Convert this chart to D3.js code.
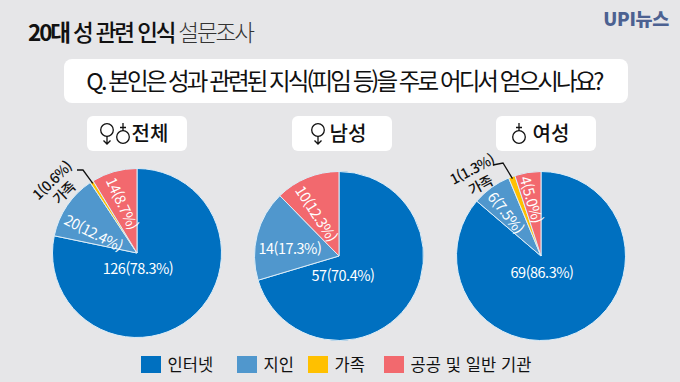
<!DOCTYPE html>
<html lang="ko">
<head>
<meta charset="utf-8">
<script src="https://cdn.jsdelivr.net/npm/d3@7"></script>
<style>
  html, body { margin: 0; padding: 0; background: #e6e6e8; }
  svg { display: block; }
  text { font-family: "Noto Sans CJK KR", "Noto Sans", sans-serif; }
</style>
</head>
<body>
<div id="chart"></div>
<script>
const categories = ['인터넷', '지인', '가족', '공공 및 일반 기관']
const colors = ['#0070c0', '#5097cd', '#ffc000', '#f2696e']

const panelNames = ['전체', '남성', '여성']
const totalValues = [126, 20, 1, 14]
const maleValues = [57, 14, 0, 10]
const femaleValues = [69, 6, 1, 4]
const totalPercents = ['78.3', '12.4', '0.6', '8.7']
const malePercents = ['70.4', '17.3', '0', '12.3']
const femalePercents = ['86.3', '7.5', '1.3', '5.0']

const width = 680
const height = 382
const radius = 84.5

const svg = d3.select('#chart').append('svg')
  .attr('width', width)
  .attr('height', height)

svg.append('rect').attr('width', width).attr('height', height).attr('fill', '#e6e6e8')

// header
const title = svg.append('text')
  .attr('x', 28).attr('y', 41)
  .attr('font-size', 22.5)
  .attr('letter-spacing', -2.1)
  .attr('fill', '#111')
title.append('tspan').attr('font-weight', 700).text('20대')
title.append('tspan').attr('font-weight', 500).attr('dx', 4).text('성 관련 인식')
title.append('tspan').attr('font-weight', 300).attr('dx', 4).attr('fill', '#333').text('설문조사')

svg.append('text')
  .attr('x', 669).attr('y', 26)
  .attr('text-anchor', 'end')
  .attr('font-size', 18.5)
  .attr('font-weight', 900)
  .attr('letter-spacing', -0.3)
  .attr('fill', '#4c6191')
  .text('UPI뉴스')

svg.append('rect')
  .attr('x', 64).attr('y', 59)
  .attr('width', 564).attr('height', 44)
  .attr('rx', 8)
  .attr('fill', '#fff')

svg.append('text')
  .attr('x', 344).attr('y', 90)
  .attr('text-anchor', 'middle')
  .attr('font-size', 23.5)
  .attr('font-weight', 400)
  .attr('letter-spacing', -2.9)
  .attr('fill', '#111')
  .text('Q. 본인은 성과 관련된 지식(피임 등)을 주로 어디서 얻으시나요?')

const pie = d3.pie().sort(null).value(d => d.value)
const arc = d3.arc().innerRadius(0).outerRadius(radius)

// gender marks
function drawMan (g, x, y) {
  g.append('circle').attr('cx', x).attr('cy', y).attr('r', 6.3)
    .attr('fill', 'none').attr('stroke', '#111').attr('stroke-width', 1.3)
  g.append('path')
    .attr('d', `M${x},${y + 6}V${y + 14}M${x - 3.5},${y + 10.5}L${x},${y + 14}L${x + 3.5},${y + 10.5}`)
    .attr('fill', 'none').attr('stroke', '#111').attr('stroke-width', 1.3)
}
function drawWoman (g, x, y) {
  g.append('circle').attr('cx', x).attr('cy', y).attr('r', 6.3)
    .attr('fill', 'none').attr('stroke', '#111').attr('stroke-width', 1.3)
  g.append('path')
    .attr('d', `M${x},${y - 6}V${y - 14}M${x - 3},${y - 9.5}H${x + 3}`)
    .attr('fill', 'none').attr('stroke', '#111').attr('stroke-width', 1.3)
}

// each panel: data + where its box and labels go
const panels = [
  {
    name: panelNames[0], values: totalValues, percents: totalPercents,
    cx: 137, cy: 253, boxX: 87, labelX: 150,
    icons: [['man', 107, 130], ['woman', 123, 137]],
    blueDx: 1,
    blueDy: 14,
    labels: { 1: { r: 0.566, rotate: 27, angle: -64 }, 3: { r: 0.615, rotate: 65, angle: -15.6 } },
    family: { x: 57.5, y: 186, rotate: -44, gap: 8.5, elbow: [[77, 170], [83, 170]] }
  },
  {
    name: panelNames[1], values: maleValues, percents: malePercents,
    cx: 339, cy: 256, boxX: 292, labelX: 348,
    icons: [['man', 318, 130]],
    blueDx: 4,
    blueDy: 18,
    labels: { 1: { r: 0.59, rotate: 0, angle: -80 }, 3: { r: 0.57, rotate: 57, angle: -27 } }
  },
  {
    name: panelNames[2], values: femaleValues, percents: femalePercents,
    cx: 541, cy: 256, boxX: 496, labelX: 551,
    icons: [['woman', 519, 137]],
    blueDx: 1,
    blueDy: 15,
    labels: { 1: { r: 0.66, rotate: 52, angle: -38 }, 3: { r: 0.68, rotate: 74, angle: -8.7 } },
    family: { x: 476, y: 176.5, rotate: -28, gap: 9, elbow: [[493, 165], [503, 163]] }
  }
]

panels.forEach(p => {
  const g = svg.append('g')

  g.append('rect')
    .attr('x', p.boxX).attr('y', 116)
    .attr('width', 100).attr('height', 35)
    .attr('rx', 6)
    .attr('fill', '#fff')
  g.append('text')
    .attr('x', p.labelX).attr('y', 141)
    .attr('text-anchor', 'middle')
    .attr('font-size', 20)
    .attr('font-weight', 500)
    .attr('fill', '#111')
    .text(p.name)
  p.icons.forEach(([kind, x, y]) => {
    if (kind === 'man') drawMan(g, x, y)
    else drawWoman(g, x, y)
  })

  const rows = p.values.map((value, i) => ({ value, i, pct: p.percents[i] }))
  const arcs = pie(rows)
  const slices = g.append('g').attr('transform', `translate(${p.cx},${p.cy})`)

  slices.selectAll('path')
    .data(arcs.filter(d => d.value > 0))
    .join('path')
    .attr('d', arc)
    .attr('fill', d => colors[d.data.i])
    .attr('stroke', '#dcedf8')
    .attr('stroke-width', 1)

  slices.selectAll('text')
    .data(arcs.filter(d => d.value > 0 && d.data.i !== 2))
    .join('text')
    .attr('text-anchor', 'middle')
    .attr('dominant-baseline', 'central')
    .attr('font-size', 14.5)
    .attr('letter-spacing', -0.5)
    .attr('fill', '#fff')
    .attr('transform', d => {
      if (d.data.i === 0) return `translate(${p.blueDx},${p.blueDy})`
      const l = p.labels[d.data.i]
      const mid = l.angle * Math.PI / 180
      const x = Math.sin(mid) * radius * l.r
      const y = -Math.cos(mid) * radius * l.r
      return `translate(${x},${y}) rotate(${l.rotate})`
    })
    .text(d => `${d.value}(${d.data.pct}%)`)

  // yellow slice gets an outside label with a leader line
  if (p.family) {
    const fam = arcs[2]
    const mid = (fam.startAngle + fam.endAngle) / 2
    const tipR = radius - 2
    const tip = [p.cx + Math.sin(mid) * tipR, p.cy - Math.cos(mid) * tipR]
    const pts = [...p.family.elbow, tip]
    g.append('path')
      .attr('d', d3.line()(pts))
      .attr('fill', 'none')
      .attr('stroke', '#111')
      .attr('stroke-width', 1.3)
    const t = g.append('text')
      .attr('transform', `translate(${p.family.x},${p.family.y}) rotate(${p.family.rotate})`)
      .attr('text-anchor', 'middle')
      .attr('dominant-baseline', 'central')
      .attr('font-size', 14)
      .attr('font-weight', 500)
      .attr('letter-spacing', -0.5)
      .attr('fill', '#111')
    t.append('tspan').attr('x', 0).attr('y', -p.family.gap).text(`${fam.value}(${fam.data.pct}%)`)
    t.append('tspan').attr('x', 0).attr('y', p.family.gap).text(categories[2])
  }
})

// legend
const legendX = [141, 237, 308, 384]
const legend = svg.append('g')
  .selectAll('g')
  .data(categories)
  .join('g')
  .attr('transform', (d, i) => `translate(${legendX[i]},356)`)
legend.append('rect')
  .attr('width', 20).attr('height', 17)
  .attr('fill', (d, i) => colors[i])
legend.append('text')
  .attr('x', 26.5).attr('y', 14.5)
  .attr('font-size', 16.5)
  .attr('letter-spacing', 0.1)
  .attr('fill', '#111')
  .text(d => d)
</script>
</body>
</html>
